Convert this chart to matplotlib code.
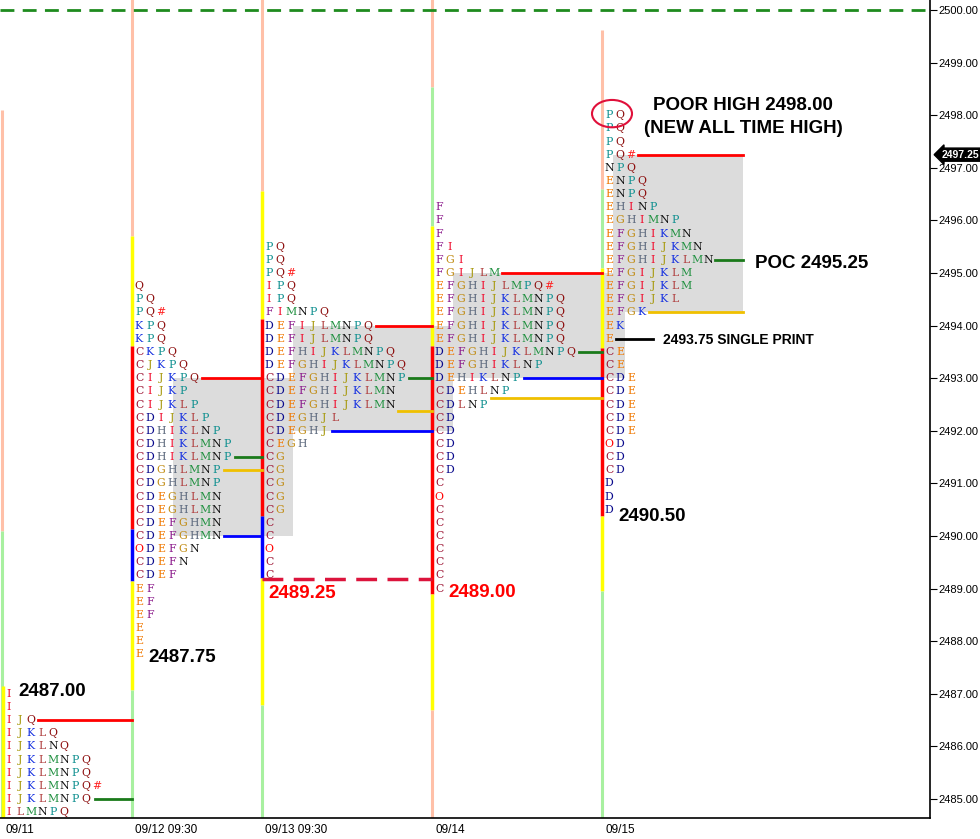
import numpy as np
import matplotlib.pyplot as plt
from matplotlib.patches import Ellipse, Rectangle
from matplotlib.transforms import blended_transform_factory

# ---- data: TPO letters per price row, top row first ----
s1_top = 2487.00
s1_rows = ["I", "I", "IJQ", "IJKLQ", "IJKLNQ", "IJKLMNPQ", "IJKLMNPQ",
           "IJKLMNPQ#", "IJKLMNPQ", "ILMNPQ"]

s2_top = 2494.75
s2_rows = ["Q", "PQ", "PQ#", "KPQ", "KPQ", "CKPQ", "CJKPQ", "CIJKPQ", "CIJKP",
           "CIJKLP", "CDIJKLP", "CDHIKLNP", "CDHIKLMNP", "CDHIKLMNP", "CDGHLMNP",
           "CDGHLMNP", "CDEGHLMN", "CDEGHLMN", "CDEFGHMN", "CDEFGHMN", "ODEFGN",
           "CDEFN", "CDEF", "EF", "EF", "EF", "E", "E", "E"]

s3_top = 2495.50
s3_rows = ["PQ", "PQ", "PQ#", "IPQ", "IPQ", "FIMNPQ", "DEFIJLMNPQ", "DEFIJLMNPQ",
           "DEFHIJKLMNPQ", "DEFGHIJKLMNPQ", "CDEFGHIJKLMNP", "CDEFGHIJKLMN",
           "CDEFGHIJKLMN", "CDEGHJL", "CDEGHJ", "CEGH", "CG", "CG", "CG", "CG",
           "CG", "C", "C", "O", "C", "C"]

s4_top = 2496.25
s4_rows = ["F", "F", "F", "FI", "FGI", "FGIJLM", "EFGHIJLMPQ#", "EFGHIJKLMNPQ",
           "EFGHIJKLMNPQ", "EFGHIJKLMNPQ", "EFGHIJKLMNPQ", "DEFGHIJKLMNPQ",
           "DEFGHIKLNP", "DEHIKLNP", "CDEHLNP", "CDLNP", "CD", "CD", "CD", "CD",
           "CD", "C", "O", "C", "C", "C", "C", "C", "C", "C"]

s5_top = 2498.00
s5_rows = ["PQ", "PQ", "PQ", "PQ#", "NPQ", "ENPQ", "ENPQ", "EHINP", "EGHIMNP",
           "EFGHIKMN", "EFGHIJKMN", "EFGHIJKLMN", "EFGIJKLM", "EFGIJKLM",
           "EFGIJKL", "EFGK", "EK", "E", "CE", "CE", "CDE", "CDE", "CDE", "CDE",
           "CDE", "OD", "CD", "CD", "D", "D", "D"]

# value areas (high, low)
va_high = [None, 2493.00, 2494.00, 2495.00, 2497.25]
va_low = [None, 2490.00, 2492.00, 2493.00, 2494.25]

# level lines per session: (price, colour)
s1_levels = [(2486.50, "red"), (2485.00, "green")]
s2_levels = [(2493.00, "red"), (2491.50, "green"), (2491.25, "gold"), (2490.00, "blue")]
s3_levels = [(2494.00, "red"), (2493.00, "green"), (2492.375, "gold"), (2492.00, "blue")]
s4_levels = [(2495.00, "red"), (2493.50, "green"), (2493.00, "blue"), (2492.625, "gold")]
s5_levels = [(2497.25, "red"), (2495.25, "green"), (2494.25, "gold")]

# vertical range bars per session: (top, bottom, colour)
s1_bars = [(2498.10, 2490.10, "salmon"), (2490.10, 2484.6, "palegreen"), (2487.15, 2484.6, "yellow")]
s2_bars = [(2500.2, 2495.70, "salmon"), (2495.70, 2493.61, "yellow"), (2493.61, 2490.14, "red"),
           (2490.14, 2489.15, "blue"), (2489.15, 2487.07, "yellow"), (2487.07, 2484.6, "palegreen")]
s3_bars = [(2500.2, 2496.55, "salmon"), (2496.55, 2494.12, "yellow"), (2494.12, 2490.39, "red"),
           (2490.39, 2489.20, "blue"), (2489.20, 2486.78, "yellow"), (2486.78, 2484.6, "palegreen")]
s4_bars = [(2500.2, 2498.54, "salmon"), (2498.54, 2495.89, "palegreen"), (2495.89, 2493.61, "yellow"),
           (2493.61, 2488.90, "red"), (2488.90, 2486.69, "yellow"), (2486.69, 2484.6, "salmon")]
s5_bars = [(2499.62, 2496.60, "salmon"), (2496.60, 2495.09, "palegreen"), (2495.09, 2493.57, "yellow"),
           (2493.57, 2490.39, "red"), (2490.39, 2488.96, "yellow"), (2488.96, 2484.6, "palegreen")]

date_labels = ["09/11", "09/12 09:30", "09/13 09:30", "09/14", "09/15"]
y_ticks = np.arange(2485, 2501, 1.0)
last_price = 2497.25
all_time_high_ref = 2500.00

# ---- styles / layout ----
letter_colors = {
    "C": "#9b1030", "D": "#0a0a8c", "E": "#f07800", "F": "#8b1a8b", "G": "#c08a10",
    "H": "#5f6b7f", "I": "#f01030", "J": "#a89a10", "K": "#1530e0", "L": "#b04040",
    "M": "#209040", "N": "#101010", "O": "#ff0000", "P": "#109090", "Q": "#8b0a0a",
    "#": "#ff2020",
}
line_colors = {"red": "#ff0000", "green": "#1a7a1a", "gold": "#f0c000", "blue": "#0000ff",
               "black": "#000000"}
bar_colors = {"salmon": "#ffc0a8", "palegreen": "#a8f0a0", "yellow": "#ffff00",
              "red": "#ff0000", "blue": "#0000ff"}

sess_x = [2, 132, 262, 432, 602]
box_x = [None, (173, 293), (293, 453), (453, 625), (613, 743)]
level_x = [[38, 95], [202, 235, 224, 224], [376, 409, 398, 332], [502, 579, 524, 491], [638, 715, 649]]
level_end = [132, 262, 432, 602, 743]
step_x = 11
tick = 0.25

sessions = [(s1_top, s1_rows), (s2_top, s2_rows), (s3_top, s3_rows), (s4_top, s4_rows), (s5_top, s5_rows)]
levels = [s1_levels, s2_levels, s3_levels, s4_levels, s5_levels]
bars = [s1_bars, s2_bars, s3_bars, s4_bars, s5_bars]

fig = plt.figure(figsize=(9.8, 8.39), dpi=100)
ax = fig.add_axes([0, 21 / 839, 930 / 980, 818 / 839])
ax.set_xlim(0, 930)
ax.set_ylim(2484.64, 2500.19)

# value area boxes
for i in range(5):
    if va_high[i] is None:
        continue
    x0, x1 = box_x[i]
    ax.add_patch(Rectangle((x0, va_low[i]), x1 - x0, va_high[i] - va_low[i],
                           facecolor="#dcdcdc", edgecolor="none", zorder=1))

# vertical range bars
for i, segs in enumerate(bars):
    for top, bot, c in segs:
        lw = 2.2 if c in ("salmon", "palegreen") else 2.5
        xoff = 1 if (i == 0 and c == "yellow") else 0
        ax.plot([sess_x[i] + xoff] * 2, [bot, top], color=bar_colors[c], lw=lw,
                solid_capstyle="butt", zorder=2)

# level lines
for i, lv in enumerate(levels):
    for (price, c), xs in zip(lv, level_x[i]):
        ax.plot([xs, level_end[i]], [price, price], color=line_colors[c], lw=2, zorder=3)

# single print line
ax.plot([616, 653], [2493.75, 2493.75], color="black", lw=2, zorder=3)

# letters
for i, (top, rows) in enumerate(sessions):
    for r, row in enumerate(rows):
        price = top - r * tick
        for k, ch in enumerate(row):
            ax.text(sess_x[i] + 7 + k * step_x, price, ch, color=letter_colors[ch],
                    fontsize=7.8, family="DejaVu Serif", ha="center", va="center", zorder=4)

# dashed lines
ax.plot([0, 930], [all_time_high_ref] * 2, color="#1e8b1e", lw=2, dashes=(5, 3), zorder=3)
ax.plot([262, 432], [2489.19] * 2, color="#dc143c", lw=2.5, dashes=(6, 3), zorder=3)

# annotations
bold = dict(family="Liberation Sans", fontweight="bold", fontsize=13.5, va="center", zorder=5)
ax.text(18, 2487.05, "2487.00", color="black", ha="left", **bold)
ax.text(148, 2487.70, "2487.75", color="black", ha="left", **bold)
ax.text(268, 2488.90, "2489.25", color="#ff0000", ha="left", **bold)
ax.text(448, 2488.93, "2489.00", color="#ff0000", ha="left", **bold)
ax.text(618, 2490.38, "2490.50", color="black", ha="left", **bold)
ax.text(755, 2495.18, "POC 2495.25", color="black", ha="left", **bold)
ax.text(743, 2498.18, "POOR HIGH 2498.00", color="black", ha="center", **bold)
ax.text(743, 2497.74, "(NEW ALL TIME HIGH)", color="black", ha="center", **bold)
ax.text(663, 2493.72, "2493.75 SINGLE PRINT", color="black", ha="left",
        family="Liberation Sans", fontweight="bold", fontsize=10, va="center", zorder=5)
ax.add_patch(Ellipse((612, 2498.03), 40, 0.52, fill=False, edgecolor="#e0103a", lw=1.5, zorder=5))

# axes
for s in ("top", "left"):
    ax.spines[s].set_visible(False)
ax.spines["right"].set_linewidth(1.2)
ax.spines["bottom"].set_linewidth(1.2)
ax.yaxis.tick_right()
ax.set_yticks(y_ticks)
ax.set_yticklabels([f"{v:.2f}" for v in y_ticks], family="Liberation Sans", fontsize=8)
ax.tick_params(axis="y", direction="out", length=5, pad=1)
ax.set_xticks([x + 3 for x in sess_x])
ax.set_xticklabels(date_labels, family=["Liberation Sans Narrow", "Liberation Sans"], fontsize=8.5,
                   ha="left")
ax.tick_params(axis="x", length=0, pad=4)

tr = blended_transform_factory(ax.transAxes, ax.transData)
ax.text(1.012, last_price, f"{last_price:.2f}", transform=tr, color="white", fontsize=7.5,
        family="Liberation Sans", fontweight="bold", ha="left", va="center", zorder=6,
        bbox=dict(boxstyle="larrow,pad=0.15", fc="black", ec="black"), clip_on=False)

fig.savefig("out.png", dpi=100)
